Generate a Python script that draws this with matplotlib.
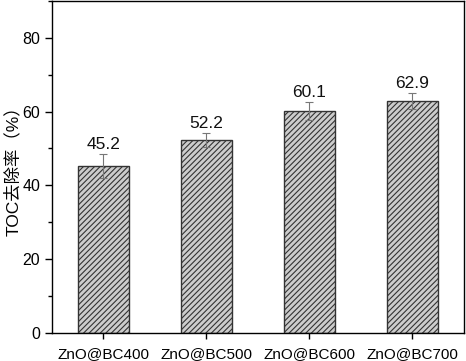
import matplotlib
matplotlib.use("Agg")
import matplotlib.pyplot as plt
from matplotlib.ticker import MultipleLocator

categories = ["ZnO@BC400", "ZnO@BC500", "ZnO@BC600", "ZnO@BC700"]
values = [45.2, 52.2, 60.1, 62.9]
errors = [3.2, 1.9, 2.4, 2.1]
labels = ["45.2", "52.2", "60.1", "62.9"]

plt.rcParams['font.family'] = ['Liberation Sans', 'Noto Sans CJK SC', 'DejaVu Sans']
plt.rcParams['hatch.color'] = '#444444'
plt.rcParams['hatch.linewidth'] = 0.8

fig = plt.figure(figsize=(4.66, 3.61), dpi=100)
ax = fig.add_axes([0.1116, 0.0776, 0.884, 0.92])
x = range(len(categories))
bars = ax.bar(x, values, width=0.5, color='#cccccc', edgecolor='#333333',
              linewidth=1.0, hatch='//////')
ax.errorbar(x, values, yerr=errors, fmt='none', ecolor='#777777',
            elinewidth=0.8, capsize=3, capthick=0.8)
for xi, v, e, lab in zip(x, values, errors, labels):
    ax.text(xi, v + e + 0.6, lab, ha='center', va='bottom', fontsize=12.5, color='#111111')

ax.set_xlim(-0.5, 3.5)
ax.set_ylim(0, 90)
ax.set_xticks(list(x))
ax.set_xticklabels(categories, fontsize=11)
ax.yaxis.set_major_locator(MultipleLocator(20))
ax.yaxis.set_minor_locator(MultipleLocator(10))
ax.tick_params(axis='y', labelsize=11.5, direction='out', length=5, width=1)
ax.tick_params(axis='y', which='minor', direction='out', length=3, width=1)
ax.tick_params(axis='x', direction='out', length=4, width=1, pad=6)
ax.set_ylabel("TOC去除率（%）", fontsize=12.5, labelpad=1,
              family=['Liberation Sans', 'Noto Sans CJK SC'])
for s in ax.spines.values():
    s.set_linewidth(1.0)
fig.savefig("out.png", dpi=100)
